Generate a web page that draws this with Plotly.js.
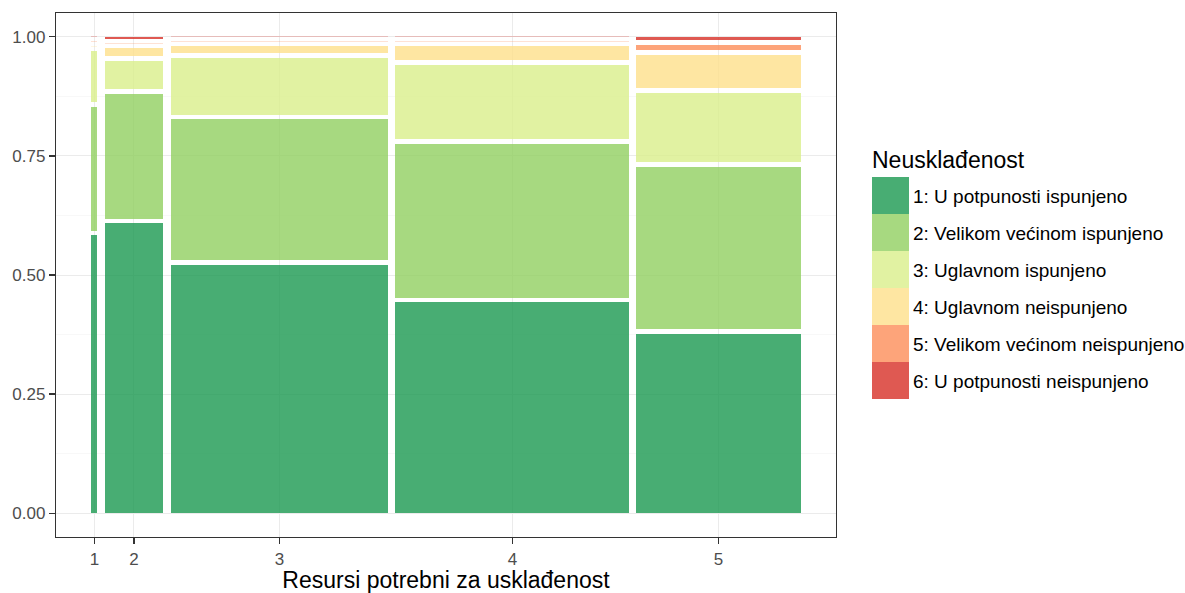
<!DOCTYPE html>
<html>
<head>
<meta charset="utf-8">
<script src="https://cdn.plot.ly/plotly-3.0.1.min.js"></script>
<style>
  html, body { margin: 0; padding: 0; background: #ffffff; }
  #chart { width: 1185px; height: 593px; }
</style>
</head>
<body>
<div id="chart"></div>
<script>
// ---- Data ----
const columnLabels = ['1', '2', '3', '4', '5'];
// relative size (share, %) of each "Resursi" group -> column widths
const columnShares = [0.88, 8.65, 32.0, 34.36, 24.1];

const categories = [
  '1: U potpunosti ispunjeno',
  '2: Velikom većinom ispunjeno',
  '3: Uglavnom ispunjeno',
  '4: Uglavnom neispunjeno',
  '5: Velikom većinom neispunjeno',
  '6: U potpunosti neispunjeno'
];
// proportion of each category within each column (columns 1..5)
const cat1 = [0.614, 0.640, 0.548, 0.466, 0.396];
const cat2 = [0.273, 0.276, 0.311, 0.340, 0.358];
const cat3 = [0.113, 0.062, 0.125, 0.164, 0.153];
const cat4 = [0.000, 0.017, 0.0155, 0.030, 0.074];
const cat5 = [0.000, 0.000, 0.000, 0.000, 0.011];
const cat6 = [0.000, 0.0044, 0.000, 0.000, 0.008];

const legendTitle = 'Neusklađenost';
const xTitle = 'Resursi potrebni za usklađenost';

// ---- Styling ----
const baseColors = [[26,152,80],[145,207,96],[217,239,139],[254,224,139],[252,141,89],[215,48,39]];
const ALPHA = 0.8;
const GAP = 0.01;           // mosaic spacing between tiles
const W = 1185, H = 593;
const M = {l: 56, r: 349, t: 13, b: 56};
const FONT = 'Liberation Sans, Arial, sans-serif';

// ---- Mosaic layout computed from data ----
const seriesList = [cat1, cat2, cat3, cat4, cat5, cat6];
const nCol = columnLabels.length;
const shareSum = columnShares.reduce((a, b) => a + b, 0);
const usableX = 1 - GAP * (nCol - 1);
const widths = columnShares.map(s => s / shareSum * usableX);
const centers = [];
let acc = 0;
widths.forEach((w, i) => { centers.push(acc + w / 2); acc += w + GAP; });

const nCat = categories.length;
const usableY = 1 - GAP * (nCat - 1);
const bases = seriesList.map(() => new Array(nCol).fill(0));
const heights = seriesList.map(() => new Array(nCol).fill(0));
const colorsArr = seriesList.map(() => new Array(nCol).fill(''));
for (let j = 0; j < nCol; j++) {
  let tot = 0;
  seriesList.forEach(s => tot += s[j]);
  let y = 0;
  for (let k = 0; k < nCat; k++) {
    const p = seriesList[k][j] / tot;
    const h = p * usableY;
    const c = baseColors[k];
    if (h > 0) {
      bases[k][j] = y;
      heights[k][j] = h;
      colorsArr[k][j] = `rgba(${c[0]},${c[1]},${c[2]},${ALPHA})`;
    } else {
      // empty tile drawn as a faint line
      bases[k][j] = y - 0.001;
      heights[k][j] = 0.002;
      colorsArr[k][j] = `rgba(${c[0]},${c[1]},${c[2]},0.25)`;
    }
    y += h + GAP;
  }
}

const traces = seriesList.map((s, k) => ({
  type: 'bar',
  name: categories[k],
  x: centers,
  y: heights[k],
  base: bases[k],
  width: widths,
  marker: {color: colorsArr[k], line: {width: 0}},
  hoverinfo: 'skip',
  showlegend: false
}));

// ---- Custom legend (large swatches like ggplot) ----
const plotW = W - M.l - M.r, plotH = H - M.t - M.b;
const px2x = px => (px - M.l) / plotW;
const py2y = py => (H - M.b - py) / plotH;
const legLeft = 872, swW = 37, swH = 37, swTop = 177;
const shapes = [];
const annotations = [];
annotations.push({
  xref: 'paper', yref: 'paper', x: px2x(legLeft - 2), y: py2y(160),
  xanchor: 'left', yanchor: 'middle', showarrow: false,
  text: legendTitle, font: {family: FONT, size: 23, color: '#000000'}
});
categories.forEach((name, k) => {
  const c = baseColors[k];
  const top = swTop + k * swH;
  shapes.push({
    type: 'rect', xref: 'paper', yref: 'paper',
    x0: px2x(legLeft), x1: px2x(legLeft + swW),
    y0: py2y(top + swH), y1: py2y(top),
    fillcolor: `rgba(${c[0]},${c[1]},${c[2]},${ALPHA})`, line: {width: 0}
  });
  annotations.push({
    xref: 'paper', yref: 'paper', x: px2x(legLeft + swW + 2), y: py2y(top + swH / 2 + 1),
    xanchor: 'left', yanchor: 'middle', showarrow: false,
    text: name, font: {family: FONT, size: 19, color: '#000000'}
  });
});

const layout = {
  width: W, height: H,
  margin: M,
  paper_bgcolor: '#ffffff',
  plot_bgcolor: '#ffffff',
  barmode: 'overlay',
  bargap: 0,
  showlegend: false,
  font: {family: FONT, color: '#4d4d4d'},
  xaxis: {
    range: [-0.05, 1.05],
    tickvals: centers,
    ticktext: columnLabels,
    ticks: 'outside', ticklen: 6, tickwidth: 1.2, tickcolor: '#333333',
    tickfont: {size: 17, color: '#4d4d4d'},
    showgrid: true, gridcolor: '#ebebeb', gridwidth: 1,
    zeroline: false,
    showline: true, mirror: true, linecolor: '#333333', linewidth: 1.2,
    title: {text: xTitle, font: {size: 23, color: '#000000'}, standoff: 8}
  },
  yaxis: {
    range: [-0.05, 1.05],
    tickvals: [0, 0.25, 0.5, 0.75, 1],
    ticktext: ['0.00', '0.25', '0.50', '0.75', '1.00'],
    ticks: 'outside', ticklen: 6, tickwidth: 1.2, tickcolor: '#333333',
    tickfont: {size: 17, color: '#4d4d4d'},
    showgrid: true, gridcolor: '#ebebeb', gridwidth: 1,
    minor: {tickvals: [0.125, 0.375, 0.625, 0.875], showgrid: true, gridcolor: '#f3f3f3', gridwidth: 0.6, ticks: ''},
    zeroline: false,
    showline: true, mirror: true, linecolor: '#333333', linewidth: 1.2
  },
  shapes: shapes,
  annotations: annotations
};

Plotly.newPlot('chart', traces, layout, {displayModeBar: false, staticPlot: true});
</script>
</body>
</html>
